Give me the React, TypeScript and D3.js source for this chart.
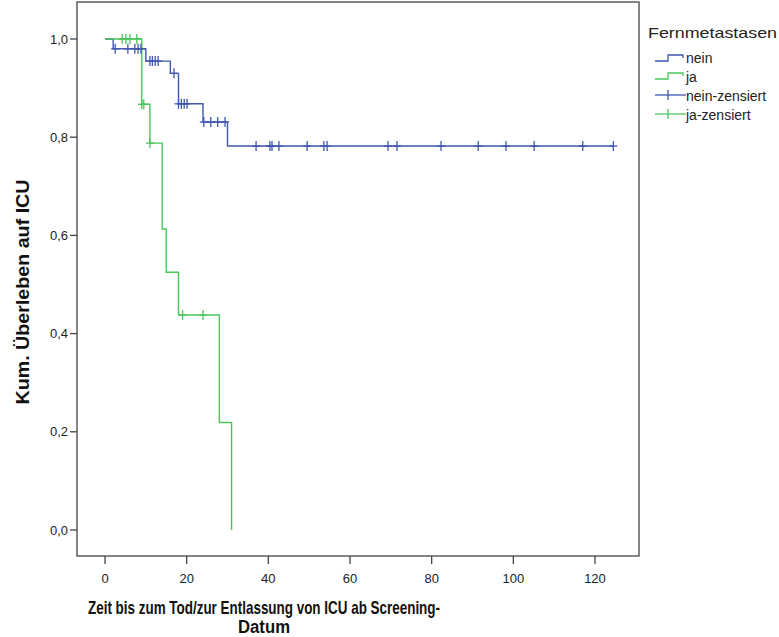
import React from "react";
import * as d3 from "d3";

// ---- Data ----
const xTicks = [0, 20, 40, 60, 80, 100, 120];
const yTicks = [0, 0.2, 0.4, 0.6, 0.8, 1.0];

// Group "nein": event times and survival after each event
const neinTimes = [0, 2, 10, 16, 18, 24, 30];
const neinSurv = [1.0, 0.98, 0.955, 0.93, 0.868, 0.831, 0.782];
const neinEnd = 124.5;
const neinCensored = [
  2.5, 5.6, 7.3, 8.1, 8.8, 11, 11.6, 12.3, 13, 16.9, 18, 18.7, 19.4, 20.1,
  24.2, 25.9, 27.6, 29.4, 37, 40.4, 40.9, 42.6, 49.5, 53.6, 54.4, 69.3, 71.5,
  82.3, 91.4, 98.2, 105.1, 117, 124.5,
];

// Group "ja"
const jaTimes = [0, 9, 11, 14, 15, 18, 28, 31];
const jaSurv = [1.0, 0.867, 0.788, 0.613, 0.525, 0.438, 0.219, 0.0];
const jaEnd = 31;
const jaCensored = [4.2, 5.1, 6.1, 7.8, 9, 9.5, 11, 19, 24];

const legendLabels = ["nein", "ja", "nein-zensiert", "ja-zensiert"];
const legendTitle = "Fernmetastasen";
const xTitle1 = "Zeit bis zum Tod/zur Entlassung von ICU ab Screening-";
const xTitle2 = "Datum";
const yTitle = "Kum. Überleben auf ICU";

const BLUE = "#3f57b0";
const GREEN = "#4cc55a";
const FONT = "'Liberation Sans', Arial, sans-serif";

function survAt(times: number[], surv: number[], t: number) {
  let s = surv[0];
  for (let i = 0; i < times.length; i++) if (times[i] <= t) s = surv[i];
  return s;
}

export default function App() {
  const x = d3.scaleLinear().domain([0, 120]).range([105, 595]);
  const y = d3.scaleLinear().domain([0, 1]).range([530, 39]);
  const line = d3
    .line<[number, number]>()
    .x((d) => x(d[0]))
    .y((d) => y(d[1]))
    .curve(d3.curveStepAfter);

  const neinPts: [number, number][] = neinTimes.map((t, i) => [t, neinSurv[i]]);
  neinPts.push([neinEnd, neinSurv[neinSurv.length - 1]]);
  const jaPts: [number, number][] = jaTimes.map((t, i) => [t, jaSurv[i]]);
  if (jaEnd > jaTimes[jaTimes.length - 1]) jaPts.push([jaEnd, jaSurv[jaSurv.length - 1]]);

  const fmt = (v: number) => d3.format(".1f")(v).replace(".", ",");

  const plot = { left: 77, right: 639, top: 2, bottom: 556 };

  const censorMark = (cx: number, cy: number, color: string, key: string) => (
    <g key={key} stroke={color} strokeWidth={1.3}>
      <line x1={cx} x2={cx} y1={cy - 5} y2={cy + 5} />
      <line x1={cx - 4} x2={cx + 4} y1={cy} y2={cy} />
    </g>
  );

  return (
    <svg
      width={779}
      height={637}
      style={{ position: "absolute", left: 0, top: 0, background: "#fff" }}
      fontFamily={FONT}
    >
      <rect x={0} y={0} width={779} height={637} fill="#fff" />
      {/* frame */}
      <rect
        x={plot.left}
        y={plot.top}
        width={plot.right - plot.left}
        height={plot.bottom - plot.top}
        fill="none"
        stroke="#444"
        strokeWidth={1.3}
      />
      {/* y axis ticks */}
      {yTicks.map((v) => (
        <g key={"y" + v}>
          <line x1={plot.left - 7} x2={plot.left} y1={y(v)} y2={y(v)} stroke="#444" strokeWidth={1.3} />
          <text x={plot.left - 9} y={y(v)} textAnchor="end" dominantBaseline="central" fontSize={13} fill="#222">
            {fmt(v)}
          </text>
        </g>
      ))}
      {/* x axis ticks */}
      {xTicks.map((v) => (
        <g key={"x" + v}>
          <line x1={x(v)} x2={x(v)} y1={plot.bottom} y2={plot.bottom + 8} stroke="#444" strokeWidth={1.3} />
          <text x={x(v)} y={578} textAnchor="middle" dominantBaseline="central" fontSize={13} fill="#222">
            {v}
          </text>
        </g>
      ))}
      {/* curves */}
      <path d={line(neinPts) || ""} fill="none" stroke={BLUE} strokeWidth={1.4} />
      <path d={line(jaPts) || ""} fill="none" stroke={GREEN} strokeWidth={1.4} />
      {neinCensored.map((t, i) => censorMark(x(t), y(survAt(neinTimes, neinSurv, t)), BLUE, "nc" + i))}
      {jaCensored.map((t, i) => censorMark(x(t), y(survAt(jaTimes, jaSurv, t)), GREEN, "jc" + i))}

      {/* axis titles */}
      <text x={264} y={607} textAnchor="middle" dominantBaseline="central" fontSize={19} fontWeight="bold" fill="#111" textLength={352} lengthAdjust="spacingAndGlyphs">
        {xTitle1}
      </text>
      <text x={264} y={627} textAnchor="middle" dominantBaseline="central" fontSize={18} fontWeight="bold" fill="#111" textLength={52} lengthAdjust="spacingAndGlyphs">
        {xTitle2}
      </text>
      <text
        transform={`translate(22,${292}) rotate(-90)`}
        textAnchor="middle"
        dominantBaseline="central"
        fontSize={19}
        fontWeight="bold"
        fill="#111"
        textLength={225}
        lengthAdjust="spacingAndGlyphs"
      >
        {yTitle}
      </text>

      {/* legend */}
      <text x={648} y={32} dominantBaseline="central" fontSize={15} fill="#222" textLength={129} lengthAdjust="spacingAndGlyphs">
        {legendTitle}
      </text>
      <path d="M655,61 H668 V55 H683 V58" fill="none" stroke={BLUE} strokeWidth={1.3} />
      <path d="M655,79 H668 V73 H683 V76" fill="none" stroke={GREEN} strokeWidth={1.3} />
      <g stroke={BLUE} strokeWidth={1.3}>
        <line x1={655} x2={686} y1={95} y2={95} />
        <line x1={668} x2={668} y1={90} y2={100} />
      </g>
      <g stroke={GREEN} strokeWidth={1.3}>
        <line x1={655} x2={686} y1={114} y2={114} />
        <line x1={668} x2={668} y1={109} y2={119} />
      </g>
      {legendLabels.map((l, i) => (
        <text key={l} x={686} y={[58, 77, 96, 115][i]} dominantBaseline="central" fontSize={14} fill="#222">
          {l}
        </text>
      ))}
    </svg>
  );
}
